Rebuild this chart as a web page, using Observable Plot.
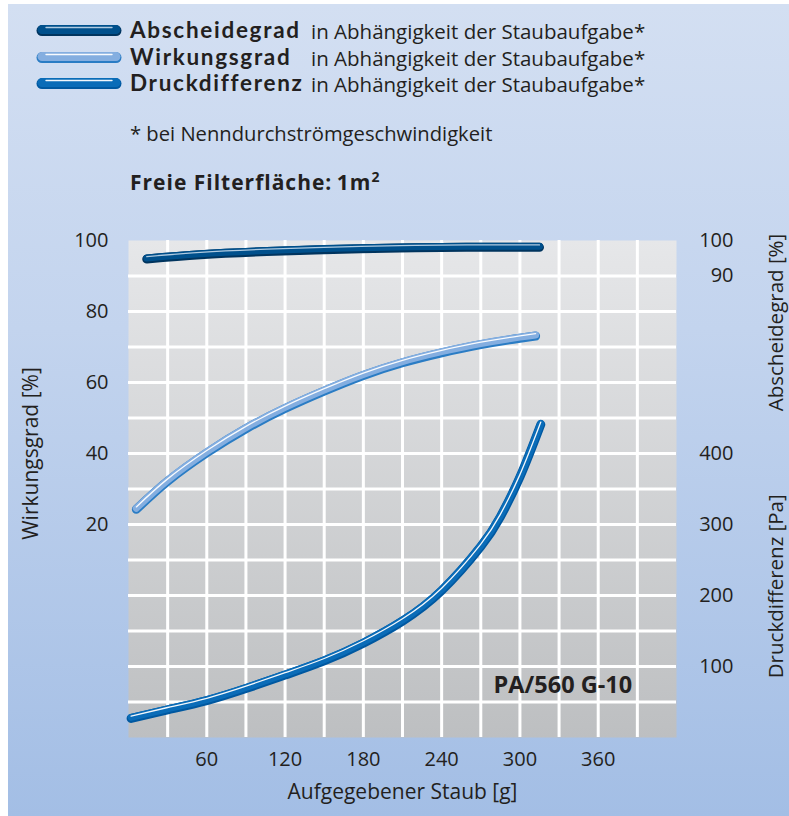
<!DOCTYPE html>
<html>
<head>
<meta charset="utf-8">
<script src="https://cdn.jsdelivr.net/npm/d3@7"></script>
<script src="https://cdn.jsdelivr.net/npm/@observablehq/plot@0.6"></script>
<style>
  html, body { margin: 0; padding: 0; background: #ffffff; }
  body { width: 789px; height: 816px; position: relative; overflow: hidden; font-family: "Open Sans", sans-serif; color: #231f20; }
  #panel { position: absolute; left: 8px; top: 4px; width: 781px; height: 812px;
           background: linear-gradient(to bottom, #d3dff2 0%, #c3d4ee 40%, #a3bee5 100%); }
  #legend { position: relative; width: 781px; height: 196px; }
  .row { position: absolute; left: 0; height: 22px; width: 781px; }
  .sw { position: absolute; left: 28px; top: -2px; }
  .b { position: absolute; left: 122px; top: 0px; font-family: Lato, sans-serif; font-weight: 700; font-size: 22.5px; letter-spacing: 1.7px; line-height: 22px; }
  .r { position: absolute; left: 303px; top: 1px; font-size: 20.5px; line-height: 22px; }
  #note { position: absolute; left: 122px; top: 117px; font-size: 20.2px; line-height: 24px; }
  #area { position: absolute; left: 122px; top: 160px; font-size: 21px; font-weight: 700; letter-spacing: 1px; line-height: 26px; }
  #chart { position: absolute; left: 0; top: 196px; }
</style>
</head>
<body>
<div id="panel">
  <div id="legend"></div>
  <div id="chart"></div>
</div>
<script>
// ---- data ----
const grams_abs = [14, 55, 106, 157, 208, 259, 315];
const abscheidegrad = [95.0, 96.2, 97.1, 97.7, 98.1, 98.3, 98.3];

const grams_wirk = [6, 30, 60, 90, 120, 150, 180, 210, 240, 270, 300, 312];
const wirkungsgrad = [24.5, 32.4, 40.4, 47.2, 52.9, 57.8, 62.2, 65.8, 68.6, 70.9, 72.7, 73.3];

const grams_druck = [2, 30, 60, 90, 120, 150, 180, 210, 240, 270, 285, 300, 316];
const druckdifferenz = [28, 40, 53, 70, 89, 109, 134, 165, 208, 270, 312, 368, 442];

const xTicks = [60, 120, 180, 240, 300, 360];
const xGrid = [30, 60, 90, 120, 150, 180, 210, 240, 270, 300, 330, 360, 390];
const yGrid = [-30, -20, -10, 0, 10, 20, 30, 40, 50, 60, 70, 80, 90];
const wirkTicks = [20, 40, 60, 80, 100];
const abschTicks = [90, 100];
const druckTicks = [100, 200, 300, 400];

const seriesNames = ["Abscheidegrad", "Wirkungsgrad", "Druckdifferenz"];
const legendSuffix = "in Abhängigkeit der Staubaufgabe*";

// pressure (Pa) shares the percent axis: 0..700 Pa spans -40..100
const pa = p => -40 + p / 5;

const absData = grams_abs.map((g, i) => ({g, v: abscheidegrad[i]}));
const wirkData = grams_wirk.map((g, i) => ({g, v: wirkungsgrad[i]}));
const druckData = grams_druck.map((g, i) => ({g, v: pa(druckdifferenz[i])}));

const styles = {
  Abscheidegrad: {edge: "#00345e", main: "#00508c", hi: "#cfe0f0", hiOp: 0.85},
  Wirkungsgrad: {edge: "#2a7cc4", main: "#84aee0", hi: "#ffffff", hiOp: 0.95},
  Druckdifferenz: {edge: "#0058a0", main: "#0a6cb8", hi: "#ffffff", hiOp: 0.95}
};

function tube(data, s) {
  const common = {x: "g", y: "v", curve: "natural", strokeLinecap: "round", strokeLinejoin: "round"};
  return [
    Plot.line(data, {...common, stroke: s.edge, strokeWidth: 9, dy: 0.8}),
    Plot.line(data, {...common, stroke: s.main, strokeWidth: 7, dy: -0.3}),
    Plot.line(data, {...common, stroke: s.hi, strokeOpacity: s.hiOp, strokeWidth: 1.3, dy: -1.6})
  ];
}

// ---- legend ----
const legend = document.getElementById("legend");
const rowTops = [15, 42, 68];
seriesNames.forEach((name, i) => {
  const s = styles[name];
  const row = document.createElement("div");
  row.className = "row";
  row.style.top = rowTops[i] + "px";
  row.innerHTML =
    `<svg class="sw" width="86" height="26" viewBox="0 0 86 26">
       <line x1="6" y1="13.6" x2="80" y2="13.6" stroke="${s.edge}" stroke-width="11" stroke-linecap="round"/>
       <line x1="6" y1="12.6" x2="80" y2="12.6" stroke="${s.main}" stroke-width="9" stroke-linecap="round"/>
       <line x1="10" y1="10.5" x2="76" y2="10.5" stroke="${s.hi}" stroke-opacity="${s.hiOp}" stroke-width="1.4" stroke-linecap="round"/>
     </svg>
     <span class="b">${name}</span><span class="r">${legendSuffix}</span>`;
  legend.appendChild(row);
});
const note = document.createElement("div");
note.id = "note"; note.textContent = "* bei Nenndurchströmgeschwindigkeit";
legend.appendChild(note);
const area = document.createElement("div");
area.id = "area"; area.innerHTML = "Freie Filterfläche:&#8201;1m<sup style=\"font-size:14px\">2</sup>";
legend.appendChild(area);

// ---- chart ----
const font = "Open Sans, sans-serif";
const chart = Plot.plot({
  width: 781,
  height: 612,
  marginLeft: 120,
  marginRight: 113,
  marginTop: 40,
  marginBottom: 75,
  style: {fontFamily: font, fontSize: "20px", color: "#231f20", background: "transparent", overflow: "visible"},
  x: {domain: [0, 420], axis: null},
  y: {domain: [-40, 100], axis: null},
  marks: [
    Plot.frame({fill: "url(#plotbg)", stroke: null}),
    Plot.ruleX(xGrid, {stroke: "#ffffff", strokeWidth: 3}),
    Plot.ruleY(yGrid, {stroke: "#ffffff", strokeWidth: 3}),
    ...tube(absData, styles.Abscheidegrad),
    ...tube(wirkData, styles.Wirkungsgrad),
    ...tube(druckData, styles.Druckdifferenz),
    Plot.text(["PA/560 G-10"], {x: 386, y: -25.3, text: d => d, textAnchor: "end", fontWeight: 700, fontSize: 23.5, fill: "#231f20"}),
    // left axis
    Plot.text(wirkTicks, {frameAnchor: "left", y: d => d, dx: -20, textAnchor: "end", text: d => String(d), fontSize: 20}),
    Plot.text(["Wirkungsgrad [%]"], {frameAnchor: "left", y: 40, dx: -97, rotate: -90, textAnchor: "middle", text: d => d, fontSize: 21}),
    // right axes
    Plot.text(abschTicks, {frameAnchor: "right", y: d => d, dx: 57, textAnchor: "end", text: d => String(d), fontSize: 20}),
    Plot.text(druckTicks, {frameAnchor: "right", y: d => pa(d), dx: 57, textAnchor: "end", text: d => String(d), fontSize: 20}),
    Plot.text(["Abscheidegrad [%]"], {frameAnchor: "right", y: 76.9, dx: 100, rotate: -90, textAnchor: "middle", text: d => d, fontSize: 20.5}),
    Plot.text(["Druckdifferenz [Pa]"], {frameAnchor: "right", y: 2.6, dx: 100, rotate: -90, textAnchor: "middle", text: d => d, fontSize: 20.5}),
    // bottom axis
    Plot.text(xTicks, {frameAnchor: "bottom", x: d => d, dy: 28, text: d => String(d), fontSize: 20}),
    Plot.text(["Aufgegebener Staub [g]"], {frameAnchor: "bottom", x: 210, dy: 61, text: d => d, fontSize: 21})
  ]
});

// gradient for plot background
const ns = "http://www.w3.org/2000/svg";
const defs = document.createElementNS(ns, "defs");
defs.innerHTML = `<linearGradient id="plotbg" x1="0" y1="0" x2="0" y2="1">
  <stop offset="0" stop-color="#e6e7e9"/>
  <stop offset="1" stop-color="#bdbfc1"/>
</linearGradient>`;
chart.insertBefore(defs, chart.firstChild);
document.getElementById("chart").appendChild(chart);
</script>
</body>
</html>
